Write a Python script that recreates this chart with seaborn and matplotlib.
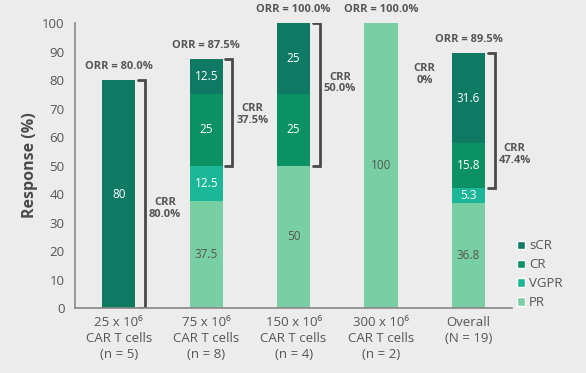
import pandas as pd
import matplotlib.pyplot as plt
import seaborn as sns
from matplotlib.patches import Patch

# Данные
categories = ['25 x 10⁶\nCAR T cells\n(n = 5)', '75 x 10⁶\nCAR T cells\n(n = 8)',
              '150 x 10⁶\nCAR T cells\n(n = 4)', '300 x 10⁶\nCAR T cells\n(n = 2)',
              'Overall\n(N = 19)']
pr = [0, 37.5, 50, 100, 36.8]
vgpr = [0, 12.5, 0, 0, 5.3]
cr = [0, 25, 25, 0, 15.8]
scr = [80, 12.5, 25, 0, 31.6]
orr = [80.0, 87.5, 100.0, 100.0, 89.5]
crr = [80.0, 37.5, 50.0, 0.0, 47.4]
crr_text_y = [35, 68, 79, 82, 54]

levels = ['PR', 'VGPR', 'CR', 'sCR']
colors = {'sCR': '#0e7a63', 'CR': '#0b9164', 'VGPR': '#1bb798', 'PR': '#78cfa3'}
bg = '#ececec'
text_gray = '#555555'

df = pd.DataFrame({'cat': categories, 'PR': pr, 'VGPR': vgpr, 'CR': cr, 'sCR': scr})
cum = df[levels].cumsum(axis=1)

sns.set_style('white')
plt.rcParams['font.family'] = ['Open Sans', 'DejaVu Sans']

fig = plt.figure(figsize=(5.86, 3.73), dpi=100, facecolor=bg)
ax = fig.add_axes([0.128, 0.174, 0.746, 0.764], facecolor=bg)

# стек: рисуем от верхнего уровня к нижнему
for lvl in reversed(levels):
    sns.barplot(x=df['cat'], y=cum[lvl], color=colors[lvl], width=0.38,
                saturation=1, ax=ax, edgecolor='none')

# подписи сегментов
for i in range(len(categories)):
    bottom = 0
    for lvl in levels:
        v = df.loc[i, lvl]
        if v > 0:
            c = text_gray if lvl == 'PR' else 'white'
            ax.text(i, bottom + v / 2, f'{v:g}', ha='center', va='center', fontsize=8.5, color=c)
        bottom += v
    # ORR
    ax.text(i, orr[i] + 2.8, f'ORR = {orr[i]:.1f}%', ha='center', va='bottom',
            fontsize=8, fontweight='bold', color=text_gray, clip_on=False)
    # CRR скобка
    if crr[i] > 0:
        top, low = orr[i], orr[i] - crr[i]
        ax.plot([i + 0.22, i + 0.3, i + 0.3, i + 0.22], [top, top, low, low],
                color='#4a4a4a', lw=2, solid_joinstyle='miter')
        ax.text(i + 0.53, crr_text_y[i], f'CRR\n{crr[i]:.1f}%', ha='center', va='center',
                fontsize=8, fontweight='bold', color=text_gray, linespacing=1.1)
    else:
        ax.text(i + 0.5, crr_text_y[i], 'CRR\n0%', ha='center', va='center',
                fontsize=8, fontweight='bold', color=text_gray, linespacing=1.1)

ax.set_xlim(-0.5, 4.5)
ax.set_ylim(0, 100)
ax.set_yticks(range(0, 101, 10))
ax.set_xticks([i - 0.5 for i in range(6)], minor=False)
ax.set_xticklabels([])
ax.set_xticks(range(5), minor=True)
ax.set_xticklabels(categories, minor=True, fontsize=9.5, color=text_gray, linespacing=1.3)
ax.tick_params(axis='x', which='minor', length=0, pad=6)
ax.tick_params(axis='x', which='major', length=4, color='#888888', direction='out')
ax.tick_params(axis='y', length=4, color='#888888', labelsize=9.5, labelcolor=text_gray)
ax.set_xlabel('')
ax.set_ylabel('Response (%)', fontsize=11.5, fontweight='bold', color='#4a4a4a', labelpad=3)

for s in ['top', 'right']:
    ax.spines[s].set_visible(False)
for s in ['left', 'bottom']:
    ax.spines[s].set_color('#888888')
    ax.spines[s].set_linewidth(1.2)

handles = [Patch(facecolor=colors[l], label=l) for l in reversed(levels)]
fig.legend(handles=handles, loc='upper left', bbox_to_anchor=(0.862, 0.39), frameon=False,
           fontsize=9.5, labelcolor=text_gray, handlelength=0.6, handleheight=0.6,
           handletextpad=0.3, labelspacing=0.45)

plt.savefig('out.png', dpi=100, facecolor=bg)
